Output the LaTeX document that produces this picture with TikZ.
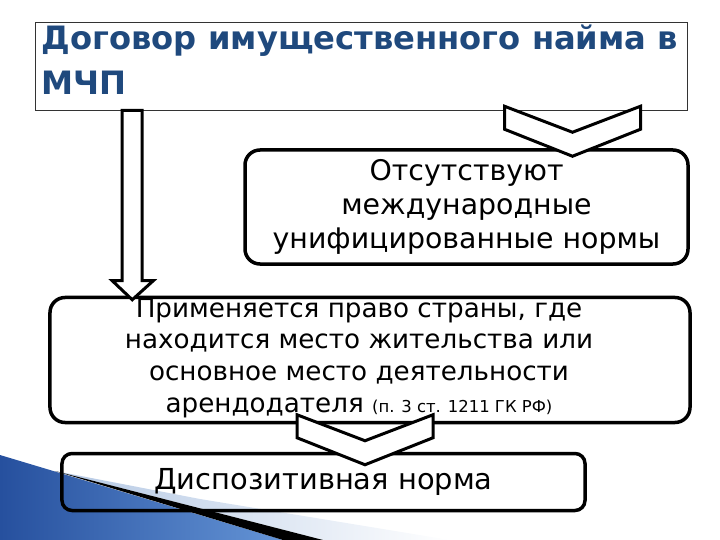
\documentclass[tikz,border=0pt]{standalone}
\usepackage{fontspec}
\setmainfont{DejaVu Sans}
\usetikzlibrary{calc,positioning}
\definecolor{titleblue}{RGB}{31,73,125}
\definecolor{cornerblue}{RGB}{38,80,158}
\definecolor{cornerlight}{RGB}{100,148,214}
\definecolor{cornerpale}{RGB}{180,200,228}

\tikzset{
  roundbox/.style={draw=black, line width=3.5bp, rounded corners=15bp, align=center, inner sep=2bp},
  blockline/.style={draw=black, fill=white, line width=3bp, line join=miter},
  chevron/.pic={\path[blockline] (-68,-50) -- (-68,-27) -- (0,0) -- (68,-27) -- (68,-50) -- (0,-24) -- cycle;}
}

\begin{document}
\begin{tikzpicture}[x=1bp,y=-1bp]
\useasboundingbox (0,0) rectangle (720,540);
% corner decoration
\shade[left color=cornerpale, right color=white] (55,471) -- (200,499) -- (450,540) -- (323,540) -- cycle;
\shade[left color=cornerblue, right color=cornerlight] (0,455) -- (283,540) -- (0,540) -- cycle;
\fill[black] (55,471) -- (323,540) -- (283,540) -- cycle;

% boxes
\node[draw=black!80, line width=0.8bp, minimum width=652bp, minimum height=88bp] (title) at (361,66) {};
\node[anchor=west, align=left, inner sep=0pt, font=\bfseries\fontsize{32.3}{45}\selectfont, text=titleblue]
  (titletext) at ($(title.west)+(7,-6)$) {Договор имущественного найма в\\МЧП};
\node[roundbox, minimum width=443bp, minimum height=114bp, font=\fontsize{28.5}{34}\selectfont] (norms) at (466.5,207)
  {Отсутствуют\\международные\\унифицированные нормы};
\node[roundbox, minimum width=640bp, minimum height=125bp] (law) at (370,360) {};
\node[align=center, font=\fontsize{26.3}{32}\selectfont] (lawtext) at ($(law.center)+(-11,-2)$)
  {Применяется право страны, где\\находится место жительства или\\основное место деятельности\\арендодателя {\fontsize{16.5}{16.5}\selectfont(п. 3 ст. 1211 ГК РФ)}};
\node[roundbox, rounded corners=10bp, minimum width=523bp, minimum height=57bp, font=\fontsize{29}{34}\selectfont] (dispo) at (323.5,482)
  {Диспозитивная норма};

% block arrow from the title down to the law box
\coordinate (tip) at ($(law.north west)+(84,4)$);
\coordinate (tail) at (title.south -| tip);
\draw[blockline] ($(tail)+(-10,0)$) -- ($(tip)+(-10,-19)$) -- ($(tip)+(-20,-19)$) -- (tip)
  -- ($(tip)+(21,-19)$) -- ($(tip)+(10,-19)$) -- ($(tail)+(10,0)$) -- cycle;

% chevrons
\pic at ($(norms.north)+(106,8)$) {chevron};
\pic at ($(dispo.north)+(41.5,13)$) {chevron};
\end{tikzpicture}
\end{document}
